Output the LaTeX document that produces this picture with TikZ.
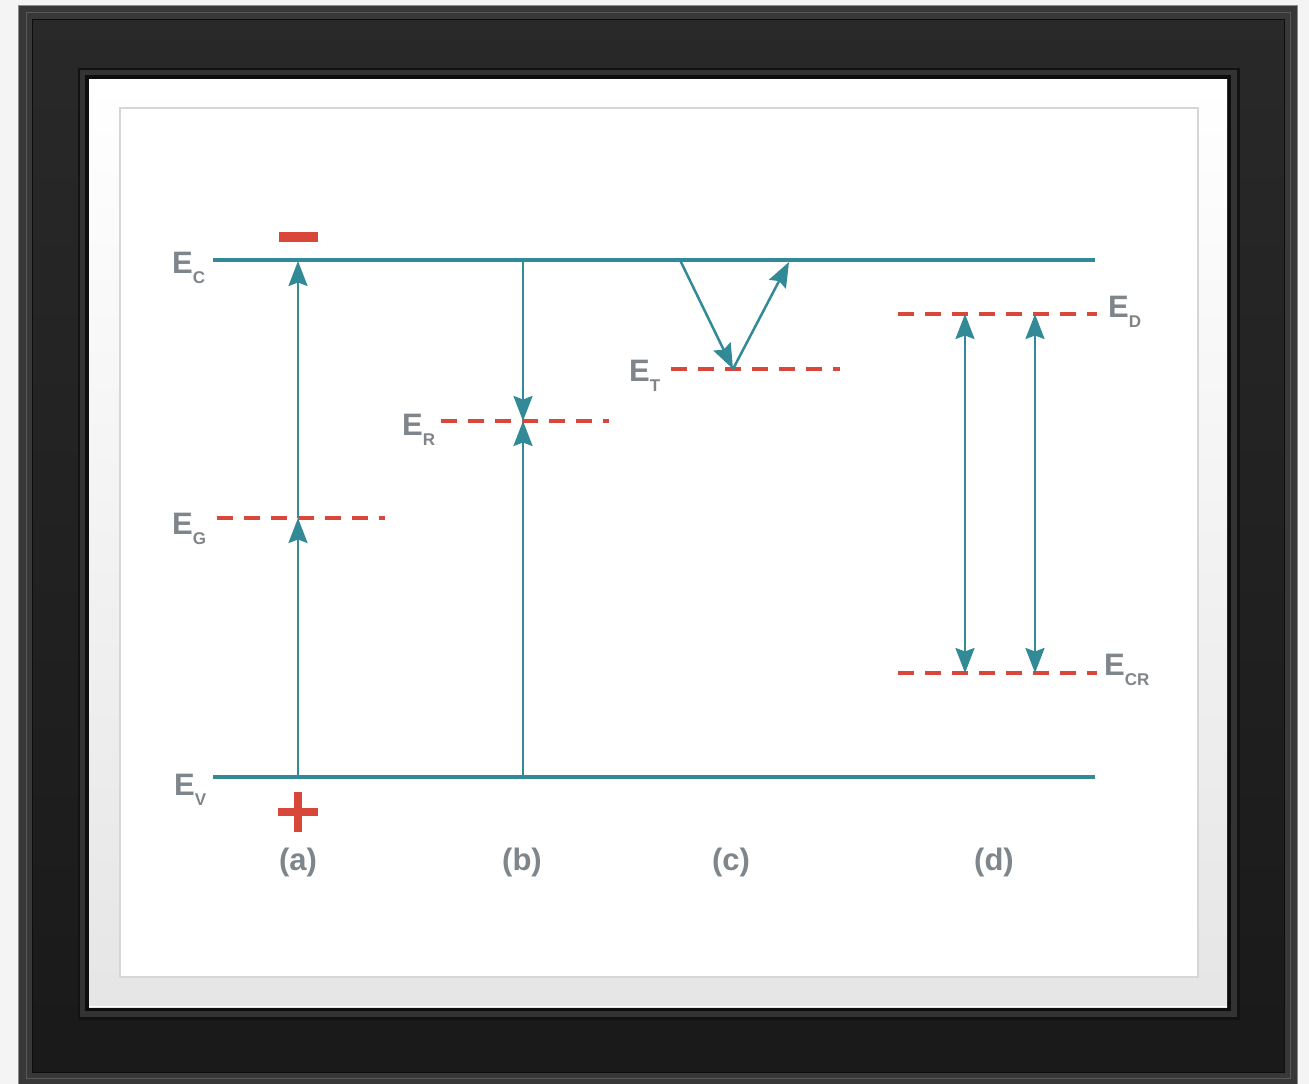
\documentclass[tikz,border=0pt]{standalone}
\usepackage{fontspec}
\setmainfont{Liberation Sans}
\usetikzlibrary{arrows.meta}
\definecolor{bandc}{HTML}{338A97}
\definecolor{lvlc}{HTML}{D9463A}
\definecolor{lblc}{HTML}{7E858B}
\definecolor{bgc}{HTML}{F4F4F4}
\newcommand{\elab}[2]{E\raisebox{-10pt}{\fontsize{17}{17}\selectfont\bfseries #2}}
\begin{document}
\begin{tikzpicture}[x=1pt,y=-1pt,
  band/.style={bandc,line width=3.5pt},
  lvl/.style={lvlc,line width=4pt,dash pattern=on 16pt off 11pt},
  arr/.style={bandc,line width=2.5pt,-{Stealth[length=25pt,width=19pt,inset=3.5pt]}},
  dbl/.style={bandc,line width=2.5pt,{Stealth[length=25pt,width=19pt,inset=3.5pt]}-{Stealth[length=25pt,width=19pt,inset=3.5pt]}},
  elabel/.style={text=lblc,font=\bfseries\fontsize{31}{31}\selectfont,inner sep=0pt,anchor=base west},
  case/.style={text=lblc,font=\bfseries\fontsize{31}{31}\selectfont,inner sep=0pt,anchor=base},
  sign/.style={fill=lvlc,draw=none}]
% background and frame
\fill[bgc] (0,0) rectangle (1309,1084);
\useasboundingbox (0,0) rectangle (1309,1084);
\fill[black!78] (18,5) rectangle (1298,1084);
\draw[black!45,line width=1pt] (18.5,5.5) rectangle (1297.5,1084);
\shade[top color=black!84,bottom color=black!90] (32,19) rectangle (1284,1072);
\draw[black!65,line width=1pt] (26,12) rectangle (1290,1078);
\draw[black!95,line width=1pt] (32,19) rectangle (1284,1072);
\fill[black!93] (78,68) rectangle (1240,1020);
\fill[black!80] (80,70) rectangle (1237,1017);
\fill[black!95] (85,75) rectangle (1231,1011);
\shade[top color=white,bottom color=black!10] (89,79) rectangle (1227,1007);
\draw[white,line width=1pt] (89,1006) -- (1227,1006);
\fill[white] (120,108) rectangle (1198,977);
\draw[black!16,line width=1.5pt] (120,108) rectangle (1198,977);
% coordinates
\coordinate (ecL) at (213,260); \coordinate (ecR) at (1095,260);
\coordinate (evL) at (213,777); \coordinate (evR) at (1095,777);
\coordinate (egL) at (217,518); \coordinate (egR) at (385,518);
\coordinate (erL) at (441,421); \coordinate (erR) at (609,421);
\coordinate (etL) at (671,369); \coordinate (etR) at (840,369);
\coordinate (edL) at (898,314); \coordinate (edR) at (1097,314);
\coordinate (ecrL) at (898,673); \coordinate (ecrR) at (1097,673);
\coordinate (a0) at (298,777); \coordinate (a1) at (298,518); \coordinate (a2) at (298,261);
\coordinate (b0) at (523,777); \coordinate (b1) at (523,421); \coordinate (b2) at (523,260);
\coordinate (c0) at (680,260); \coordinate (c1) at (733,369); \coordinate (c2) at (789,262);
\coordinate (d1t) at (965,314); \coordinate (d1b) at (965,673);
\coordinate (d2t) at (1035,314); \coordinate (d2b) at (1035,673);
% levels
\draw[lvl] (egL) -- (egR);
\draw[lvl] (erL) -- (erR);
\draw[lvl] (etL) -- (etR);
\draw[lvl] (edL) -- (edR);
\draw[lvl] (ecrL) -- (ecrR);
% bands
\draw[band] (ecL) -- (ecR);
\draw[band] (evL) -- (evR);
% transitions
\draw[arr] (a0) -- (a1);
\draw[arr] (a1) -- (a2);
\draw[arr] (b2) -- (b1);
\draw[arr] (b0) -- (b1);
\draw[arr] (c0) -- (c1);
\draw[arr] (c1) -- (c2);
\draw[dbl] (d1t) -- (d1b);
\draw[dbl] (d2t) -- (d2b);
% signs
\fill[sign] (279,232) rectangle (318,242);
\fill[sign] (278,808) rectangle (318,816);
\fill[sign] (294,792) rectangle (302,832);
% labels
\node[elabel] (lEc) at (172,273) {\elab{E}{C}};
\node[elabel] (lEg) at (172,534) {\elab{E}{G}};
\node[elabel] (lEv) at (174,795) {\elab{E}{V}};
\node[elabel] (lEr) at (402,435) {\elab{E}{R}};
\node[elabel] (lEt) at (629,381) {\elab{E}{T}};
\node[elabel] (lEd) at (1108,317) {\elab{E}{D}};
\node[elabel] (lEcr) at (1104,675) {\elab{E}{CR}};
\node[case] (ca) at (298,870) {(a)};
\node[case] (cb) at (522,870) {(b)};
\node[case] (cc) at (731,870) {(c)};
\node[case] (cd) at (994,870) {(d)};
\end{tikzpicture}
\end{document}
